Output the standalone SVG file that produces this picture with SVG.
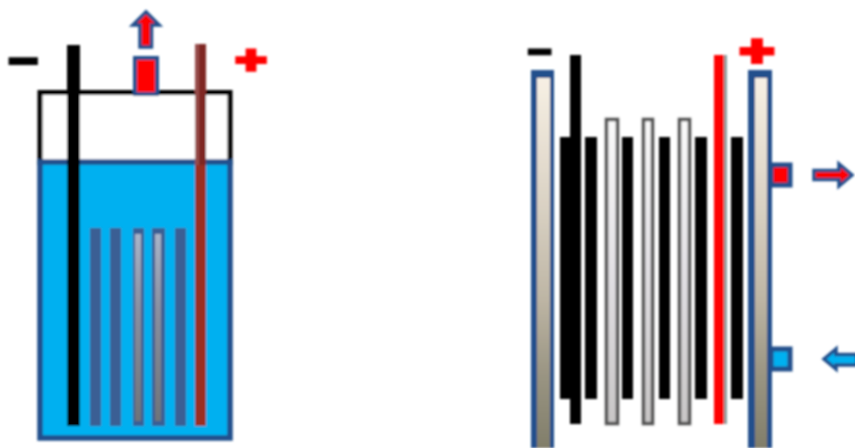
<svg xmlns="http://www.w3.org/2000/svg" width="855" height="448" viewBox="0 0 855 448">
<defs>
<filter id="soft" x="0" y="0" width="855" height="448" filterUnits="userSpaceOnUse"><feGaussianBlur stdDeviation="0.8"/></filter>
<linearGradient id="steel" gradientUnits="userSpaceOnUse" x1="0" y1="78" x2="0" y2="448">
<stop offset="0" stop-color="#f7f0e4"/><stop offset="0.35" stop-color="#d9d1c3"/><stop offset="0.6" stop-color="#bdb5a4"/><stop offset="0.8" stop-color="#9a9583"/><stop offset="1" stop-color="#817e6a"/>
</linearGradient>
<linearGradient id="white" gradientUnits="userSpaceOnUse" x1="0" y1="118" x2="0" y2="424">
<stop offset="0" stop-color="#fbfbfb"/><stop offset="0.5" stop-color="#e2e0e4"/><stop offset="1" stop-color="#c8c6c6"/>
</linearGradient>
<linearGradient id="gray" gradientUnits="userSpaceOnUse" x1="0" y1="234" x2="0" y2="421">
<stop offset="0" stop-color="#a9b4c8"/><stop offset="0.4" stop-color="#8a90a0"/><stop offset="1" stop-color="#6f7478"/>
</linearGradient>
<style>
.sign{font-family:"Liberation Sans",Arial,sans-serif;font-weight:700;font-size:38px;text-anchor:middle;stroke-width:3.5px;stroke-linejoin:miter}
.blk{fill:#000}
.pl{fill:#3a5f94}
.wp{fill:url(#white);stroke:#555;stroke-width:3.5}
</style>
</defs>
<rect width="855" height="448" fill="#fff"/>
<g filter="url(#soft)">
<g id="left-cell">
<g id="tank">
<rect x="40" y="92.500" width="190" height="70" fill="#fff" stroke="#000" stroke-width="5"/>
<rect x="40" y="162" width="190" height="276" fill="#00b0f0" stroke="#234f8c" stroke-width="5.500"/>
</g>
<g id="left-plates">
<rect class="pl" x="90" y="228" width="11" height="198"/>
<rect class="pl" x="110" y="228" width="11" height="198"/>
<rect class="pl" x="133" y="228" width="11" height="198"/>
<rect class="pl" x="152" y="228" width="13" height="198"/>
<rect class="pl" x="175" y="228" width="11" height="198"/>
<rect x="135" y="234" width="6" height="187" fill="url(#gray)"/>
<rect x="155" y="234" width="6" height="187" fill="url(#gray)"/>
</g>
<g id="left-cathode"><rect class="blk" x="67" y="45" width="13" height="381"/></g>
<g id="left-anode">
<rect x="195" y="44" width="11" height="382" fill="#7f2622"/>
<rect x="195" y="44" width="4" height="382" fill="#964c48"/>
<rect x="195" y="165" width="11" height="261" fill="#9a2f22"/>
</g>
<g id="left-port"><rect x="135" y="58" width="22" height="36" fill="#f00" stroke="#234f8c" stroke-width="4"/></g>
<text class="sign" fill="#000" stroke="#000" transform="translate(23,73.500) scale(1.3,1)" x="0" y="0">−</text>
<text class="sign" fill="#f00" stroke="#f00" transform="translate(251,73) scale(1.4,1)" x="0" y="0">+</text>
</g>
<g id="right-cell">
<g id="right-wall-left">
<rect x="531" y="70" width="23" height="378" fill="#234f8c"/>
<rect x="537" y="78" width="13" height="370" fill="url(#steel)"/>
</g>
<g id="right-wall-right">
<rect x="748" y="70" width="24" height="378" fill="#234f8c"/>
<rect x="755" y="78" width="12" height="370" fill="url(#steel)"/>
</g>
<g id="right-cathode">
<rect class="blk" x="570" y="55" width="11" height="369"/>
<rect class="blk" x="560" y="137" width="21" height="262"/>
</g>
<g id="right-black-plates">
<rect class="blk" x="585" y="137" width="12" height="262"/>
<rect class="blk" x="622" y="137" width="11" height="262"/>
<rect class="blk" x="659" y="137" width="11" height="262"/>
<rect class="blk" x="695" y="137" width="12" height="262"/>
<rect class="blk" x="731" y="137" width="12" height="262"/>
</g>
<g id="right-white-plates">
<rect class="wp" x="606.500" y="119.500" width="11" height="304"/>
<rect class="wp" x="643.500" y="119.500" width="9" height="304"/>
<rect class="wp" x="679.500" y="119.500" width="10" height="304"/>
</g>
<g id="right-anode">
<rect x="714" y="55" width="13" height="369" fill="#8b9c9c"/>
<rect x="714" y="55" width="10" height="369" fill="#f00"/>
</g>
<g id="port-out">
<rect x="771" y="165" width="19" height="20" fill="#f00" stroke="#234f8c" stroke-width="5"/>
</g>
<g id="port-in">
<rect x="771" y="349" width="19" height="20" fill="#00b0f0" stroke="#234f8c" stroke-width="5"/>
</g>
<text class="sign" fill="#000" stroke="#000" transform="translate(540,63) scale(1.05,0.9)" x="0" y="0">−</text>
<text class="sign" fill="#f00" stroke="#f00" transform="translate(757,65) scale(1.55,1.1)" x="0" y="0">+</text>
</g>
<g id="connectors">
<polygon points="146,12 159,25 151.500,25 151.500,47 140,47 140,25 133,25" fill="#f00" stroke="#234f8c" stroke-width="3.500"/>
<polygon points="852,175 839,164 839,170.500 814,170.500 814,179.500 839,179.500 839,186" fill="#f00" stroke="#234f8c" stroke-width="3.500"/>
<polygon points="824,359 836,349 836,354.500 857,354.500 857,365 836,365 836,369" fill="#00b0f0" stroke="#234f8c" stroke-width="3.500"/>
</g>
</g>
</svg>
